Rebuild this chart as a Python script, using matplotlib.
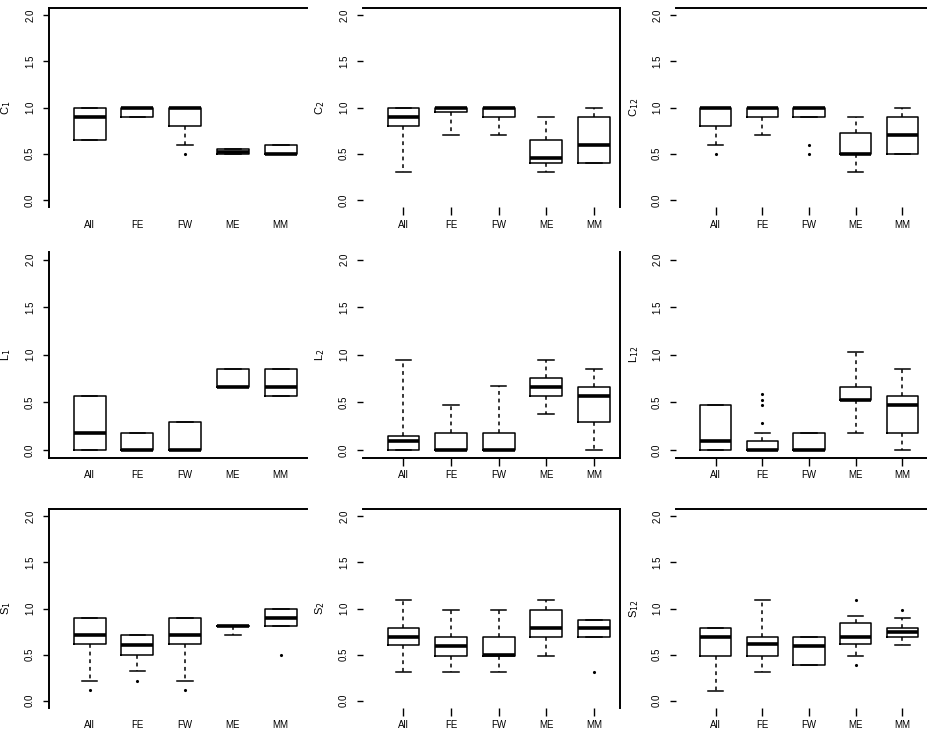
import matplotlib
matplotlib.use("Agg")
import matplotlib.pyplot as plt

plt.rcParams['font.family'] = ['Liberation Sans', 'DejaVu Sans']

GROUPS = ["All", "FE", "FW", "ME", "MM"]
YLABELS = ["C$_1$", "C$_2$", "C$_{12}$",
           "L$_1$", "L$_2$", "L$_{12}$",
           "S$_1$", "S$_2$", "S$_{12}$"]
YTICKS = [0.0, 0.5, 1.0, 1.5, 2.0]

# per panel (row-major), per group
Q1 = [[0.65, 0.90, 0.80, 0.50, 0.50],
      [0.80, 0.95, 0.90, 0.40, 0.40],
      [0.80, 0.90, 0.90, 0.50, 0.50],
      [0.00, 0.00, 0.00, 0.66, 0.57],
      [0.00, 0.00, 0.00, 0.57, 0.29],
      [0.00, 0.00, 0.00, 0.52, 0.18],
      [0.62, 0.50, 0.62, 0.81, 0.81],
      [0.60, 0.48, 0.48, 0.69, 0.69],
      [0.48, 0.48, 0.39, 0.62, 0.69]]
MED = [[0.90, 1.00, 1.00, 0.52, 0.50],
       [0.90, 1.00, 1.00, 0.45, 0.60],
       [1.00, 1.00, 1.00, 0.50, 0.70],
       [0.18, 0.00, 0.00, 0.66, 0.66],
       [0.09, 0.00, 0.00, 0.66, 0.57],
       [0.09, 0.00, 0.00, 0.52, 0.47],
       [0.71, 0.60, 0.71, 0.81, 0.90],
       [0.69, 0.59, 0.50, 0.79, 0.79],
       [0.69, 0.62, 0.59, 0.69, 0.75]]
Q3 = [[1.00, 1.00, 1.00, 0.55, 0.60],
      [1.00, 1.00, 1.00, 0.65, 0.90],
      [1.00, 1.00, 1.00, 0.72, 0.90],
      [0.57, 0.18, 0.29, 0.85, 0.85],
      [0.15, 0.18, 0.18, 0.76, 0.66],
      [0.47, 0.09, 0.18, 0.66, 0.57],
      [0.90, 0.71, 0.90, 0.81, 1.00],
      [0.79, 0.69, 0.69, 0.98, 0.88],
      [0.79, 0.69, 0.69, 0.84, 0.79]]
LO = [[0.65, 0.90, 0.60, 0.50, 0.50],
      [0.30, 0.70, 0.70, 0.30, 0.40],
      [0.60, 0.70, 0.90, 0.30, 0.50],
      [0.00, 0.00, 0.00, 0.66, 0.57],
      [0.00, 0.00, 0.00, 0.38, 0.00],
      [0.00, 0.00, 0.00, 0.18, 0.00],
      [0.21, 0.32, 0.21, 0.71, 0.81],
      [0.31, 0.31, 0.31, 0.48, 0.69],
      [0.10, 0.31, 0.39, 0.48, 0.60]]
HI = [[1.00, 1.00, 1.00, 0.55, 0.60],
      [1.00, 1.00, 1.00, 0.90, 1.00],
      [1.00, 1.00, 1.00, 0.90, 1.00],
      [0.57, 0.18, 0.29, 0.85, 0.85],
      [0.95, 0.47, 0.67, 0.95, 0.85],
      [0.47, 0.18, 0.18, 1.03, 0.85],
      [0.90, 0.71, 0.90, 0.81, 1.00],
      [1.09, 0.98, 0.98, 1.09, 0.88],
      [0.79, 1.09, 0.69, 0.92, 0.90]]
FLIERS = [[[], [], [0.50], [], []],
          [[], [], [], [], []],
          [[0.50], [], [0.60, 0.50], [], []],
          [[], [], [], [], []],
          [[], [], [], [], []],
          [[], [0.28, 0.47, 0.52, 0.59], [], [], []],
          [[0.11], [0.21], [0.11], [], [0.50]],
          [[], [], [], [], [0.31]],
          [[], [], [], [1.09, 0.39], [0.98]]]

W, H = 928, 733
fig = plt.figure(figsize=(W / 100, H / 100), dpi=100)

# axes rectangles in pixels: (left, right) per column, (top, bottom) per row
COLS = [(49, 307), (363, 620), (676, 928)]
ROWS = [(7.6, 207.4), (252, 457.6), (509, 708)]

ln = 1.1
for i in range(9):
    r, c = divmod(i, 3)
    l, rr = COLS[c]
    t, b = ROWS[r]
    ax = fig.add_axes([l / W, 1 - b / H, (rr - l) / W, (b - t) / H])
    stats = []
    for g in range(5):
        stats.append(dict(q1=Q1[i][g], med=MED[i][g], q3=Q3[i][g],
                          whislo=LO[i][g], whishi=HI[i][g],
                          fliers=FLIERS[i][g], label=GROUPS[g]))
    ax.bxp(stats, positions=range(1, 6), widths=0.67, capwidths=0.33,
           showfliers=True,
           boxprops=dict(color='black', lw=ln),
           whiskerprops=dict(color='black', lw=ln, linestyle=(0, (2.5, 2.5))),
           capprops=dict(color='black', lw=ln),
           medianprops=dict(color='black', lw=2.6, solid_capstyle='butt'),
           flierprops=dict(marker='.', markersize=2.5, markerfacecolor='black',
                           markeredgecolor='black', linestyle='none'))
    ax.set_xlim(0.15, 5.55)
    ax.set_ylim(-0.08, 2.08)
    ax.set_yticks(YTICKS)
    ax.set_yticklabels([f"{v:.1f}" for v in YTICKS], rotation=90,
                       va='center', fontsize=7)
    ax.set_xticks(range(1, 6))
    ax.set_xticklabels(GROUPS, fontsize=7)
    for s in ax.spines.values():
        s.set_visible(False)
        s.set_linewidth(1.4)
    if c == 0:
        ax.spines['left'].set_visible(True)
    if c == 1:
        ax.spines['right'].set_visible(True)
    if r == 1:
        ax.spines['bottom'].set_visible(True)
    else:
        ax.spines['top'].set_visible(True)
    ax.tick_params(axis='y', length=4, width=1, pad=6)
    if c == 0:
        ax.tick_params(axis='x', length=0, width=1, pad=9)
    else:
        ax.tick_params(axis='x', length=6, width=1, pad=3)
    ax.set_ylabel(YLABELS[i], fontsize=8)
    ax.yaxis.set_label_coords(-0.14, 0.5)
    ax.set_facecolor('none')

fig.savefig("out.png", dpi=100)
